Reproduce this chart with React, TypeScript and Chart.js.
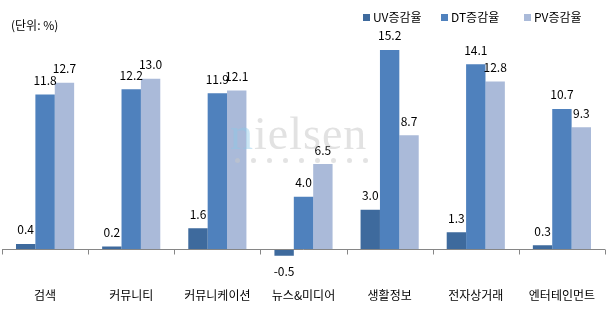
import React, { useEffect, useRef } from 'react';
import { Chart, registerables } from 'chart.js';

Chart.register(...registerables);

const categories = ['검색', '커뮤니티', '커뮤니케이션', '뉴스&미디어', '생활정보', '전자상거래', '엔터테인먼트'];
const seriesNames = ['UV증감율', 'DT증감율', 'PV증감율'];
const uvValues = [0.4, 0.2, 1.6, -0.5, 3.0, 1.3, 0.3];
const dtValues = [11.8, 12.2, 11.9, 4.0, 15.2, 14.1, 10.7];
const pvValues = [12.7, 13.0, 12.1, 6.5, 8.7, 12.8, 9.3];
const seriesColors = ['#3E6A9D', '#4F81BD', '#AABAD9'];
const unitLabel = '(단위: %)';

const FONT = "'Noto Sans CJK KR', 'Noto Sans', sans-serif";

const axisPlugin = {
  id: 'zeroAxis',
  afterDatasetsDraw(chart: any) {
    const { ctx, chartArea, scales } = chart;
    const y = scales.y;
    const zeroY = Math.round(y.getPixelForValue(0)) + 0.5;
    ctx.save();
    ctx.strokeStyle = '#868686';
    ctx.lineWidth = 1;
    ctx.beginPath();
    ctx.moveTo(chartArea.left, zeroY);
    ctx.lineTo(chartArea.right, zeroY);
    const n = categories.length;
    const w = (chartArea.right - chartArea.left) / n;
    for (let i = 0; i <= n; i++) {
      const px = Math.round(chartArea.left + i * w) + 0.5;
      ctx.moveTo(px, zeroY);
      ctx.lineTo(px, zeroY + 5);
    }
    ctx.stroke();
    ctx.restore();
  },
};

const labelPlugin = {
  id: 'valueLabels',
  afterDatasetsDraw(chart: any) {
    const { ctx } = chart;
    ctx.save();
    ctx.font = `12px ${FONT}`;
    ctx.fillStyle = '#000';
    ctx.textAlign = 'center';
    ctx.textBaseline = 'middle';
    chart.data.datasets.forEach((ds: any, di: number) => {
      const meta = chart.getDatasetMeta(di);
      meta.data.forEach((el: any, i: number) => {
        const v = ds.data[i];
        const txt = v.toFixed(1);
        if (v >= 0) ctx.fillText(txt, el.x, el.y - 14);
        else ctx.fillText(txt, el.x, el.y + 16);
      });
    });
    ctx.restore();
  },
};

const legendWidths = [78, 83, 80];

export default function App() {
  const ref = useRef<HTMLCanvasElement>(null);
  useEffect(() => {
    if (!ref.current) return;
    const chart = new Chart(ref.current, {
      type: 'bar',
      data: {
        labels: categories,
        datasets: [
          { label: seriesNames[0], data: uvValues, backgroundColor: seriesColors[0], borderWidth: 0 },
          { label: seriesNames[1], data: dtValues, backgroundColor: seriesColors[1], borderWidth: 0 },
          { label: seriesNames[2], data: pvValues, backgroundColor: seriesColors[2], borderWidth: 0 },
        ],
      },
      options: {
        responsive: false,
        animation: false,
        layout: { padding: { left: 2, right: 1, top: 30, bottom: 6 } },
        datasets: { bar: { categoryPercentage: 0.675, barPercentage: 1 } },
        plugins: {
          legend: { display: false },
          tooltip: { enabled: false },
        },
        scales: {
          x: {
            grid: { display: false },
            border: { display: false },
            ticks: { color: '#000', padding: 6, font: { family: FONT, size: 12 } },
          },
          y: {
            display: false,
            min: -1.94,
            max: 16.72,
          },
        },
      },
      plugins: [axisPlugin, labelPlugin],
    } as any);
    return () => chart.destroy();
  }, []);

  const dots = Array.from({ length: 9 });
  return (
    <div style={{ position: 'absolute', left: 0, top: 0, width: 606, height: 315, background: '#fff' }}>
      <canvas ref={ref} width={606} height={315} style={{ position: 'absolute', left: 0, top: 0 }} />
      <div
        style={{
          position: 'absolute',
          left: 11,
          top: 17,
          fontFamily: FONT,
          fontSize: 12,
          lineHeight: '16px',
          color: '#000',
          whiteSpace: 'nowrap',
        }}
      >
        {unitLabel}
      </div>
      <div style={{ position: 'absolute', left: 363, top: 9, display: 'flex', fontFamily: FONT, fontSize: 12, lineHeight: '16px', color: '#000' }}>
        {seriesNames.map((name, i) => (
          <div key={name} style={{ display: 'flex', alignItems: 'center', width: legendWidths[i], whiteSpace: 'nowrap' }}>
            <span style={{ display: 'inline-block', width: 7, height: 7, background: seriesColors[i], marginRight: 3 }} />
            <span>{name}</span>
          </div>
        ))}
      </div>
      <div
        style={{
          position: 'absolute',
          left: 230,
          top: 111,
          fontFamily: "'Liberation Serif', 'DejaVu Serif', serif",
          fontSize: 46,
          lineHeight: '46px',
          color: 'rgba(190,190,190,0.45)',
          pointerEvents: 'none',
          letterSpacing: 1,
        }}
      >
        <span style={{ color: 'rgba(140,200,230,0.45)' }}>n</span>ielsen
      </div>
      <div style={{ position: 'absolute', left: 235, top: 158, display: 'flex', gap: 11, pointerEvents: 'none' }}>
        {dots.map((_, i) => (
          <div key={i} style={{ width: 5, height: 5, borderRadius: 3, background: 'rgba(200,200,200,0.5)' }} />
        ))}
      </div>
    </div>
  );
}
